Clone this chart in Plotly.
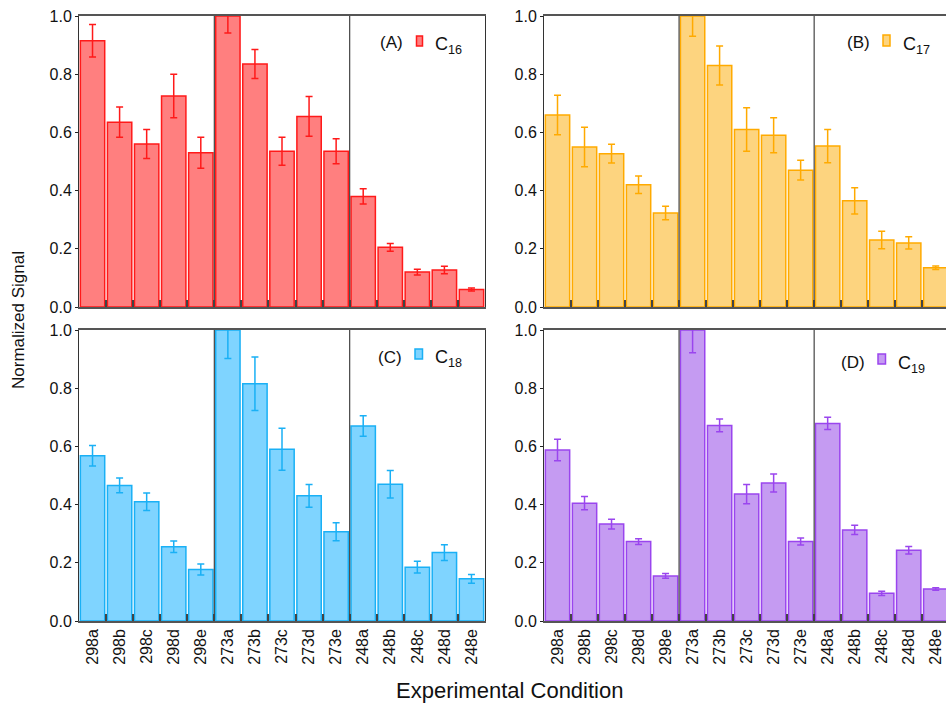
import plotly.graph_objects as go

categories = ["298a", "298b", "298c", "298d", "298e",
              "273a", "273b", "273c", "273d", "273e",
              "248a", "248b", "248c", "248d", "248e"]

c16 = [0.915, 0.635, 0.56, 0.725, 0.53, 1.0, 0.835, 0.535, 0.655, 0.535, 0.38, 0.205, 0.12, 0.127, 0.06]
c16_err = [0.056, 0.052, 0.05, 0.075, 0.053, 0.058, 0.05, 0.048, 0.068, 0.043, 0.026, 0.013, 0.01, 0.013, 0.005]

c17 = [0.66, 0.55, 0.527, 0.42, 0.323, 1.0, 0.83, 0.61, 0.59, 0.47, 0.553, 0.365, 0.23, 0.22, 0.135]
c17_err = [0.068, 0.068, 0.032, 0.03, 0.023, 0.07, 0.067, 0.075, 0.06, 0.034, 0.057, 0.045, 0.03, 0.021, 0.006]

c18 = [0.568, 0.466, 0.41, 0.255, 0.177, 1.0, 0.815, 0.59, 0.43, 0.307, 0.67, 0.47, 0.185, 0.235, 0.145]
c18_err = [0.035, 0.025, 0.03, 0.02, 0.019, 0.098, 0.092, 0.072, 0.039, 0.031, 0.035, 0.047, 0.02, 0.027, 0.015]

c19 = [0.588, 0.405, 0.333, 0.273, 0.155, 1.0, 0.672, 0.436, 0.474, 0.273, 0.679, 0.313, 0.095, 0.243, 0.11]
c19_err = [0.037, 0.023, 0.017, 0.01, 0.008, 0.078, 0.022, 0.033, 0.031, 0.012, 0.021, 0.016, 0.007, 0.013, 0.004]

series_names = ["C<sub>16</sub>", "C<sub>17</sub>", "C<sub>18</sub>", "C<sub>19</sub>"]
panel_tags = ["(A)", "(B)", "(C)", "(D)"]
values = [c16, c17, c18, c19]
errors = [c16_err, c17_err, c18_err, c19_err]
line_colors = ["#FF1A1A", "#FFAA00", "#1AB0F5", "#9A45EE"]
fill_colors = ["rgba(255,0,0,0.5)", "rgba(252,170,0,0.5)", "rgba(0,170,255,0.5)", "rgba(140,55,230,0.5)"]

W, H = 946, 704
def px(x):
    return x / W
def py(y):
    return 1 - y / H

# panel pixel boxes
x_left = (79, 485)
x_right = (544, 946)
y_top = (16, 307)
y_bot = (330, 621)
panels = [
    (x_left, y_top, "x", "y", [-0.5, 14.5], True),
    (x_right, y_top, "x2", "y2", [-0.5, 14.38], False),
    (x_left, y_bot, "x3", "y3", [-0.5, 14.5], True),
    (x_right, y_bot, "x4", "y4", [-0.5, 14.38], False),
]

fig = go.Figure()
font_family = "Liberation Sans, Arial, sans-serif"

for i, (xs, ys, xa, ya, xr, mirror_right) in enumerate(panels):
    fig.add_trace(go.Bar(
        x=categories, y=values[i], xaxis=xa, yaxis=ya,
        marker=dict(color=fill_colors[i], line=dict(color=line_colors[i], width=1.5)),
        error_y=dict(type="data", array=errors[i], visible=True,
                     color=line_colors[i], thickness=1.5, width=3.5),
        width=0.9, showlegend=False, name=series_names[i], hoverinfo="skip",
    ))
    xkey = "xaxis" + ("" if i == 0 else str(i + 1))
    ykey = "yaxis" + ("" if i == 0 else str(i + 1))
    fig.layout[xkey] = dict(
        domain=[px(xs[0]), px(xs[1])], anchor=ya, type="category",
        categoryorder="array", categoryarray=categories,
        range=xr, tickson="boundaries", ticks="inside", ticklen=7,
        tickwidth=2, tickcolor="#444",
        showticklabels=(i >= 2), tickangle=-90,
        tickfont=dict(family=font_family, size=16, color="#111"),
        showline=True, linecolor="#555", linewidth=1.5, mirror=True,
        showgrid=False, zeroline=False, automargin=False, fixedrange=True,
    )
    fig.layout[ykey] = dict(
        domain=[py(ys[1]), py(ys[0])], anchor=xa, range=[0, 1],
        tickvals=[0, 0.2, 0.4, 0.6, 0.8, 1.0],
        ticktext=["0.0", "0.2", "0.4", "0.6", "0.8", "1.0"],
        ticks="outside", ticklen=3, tickcolor="#222",
        tickfont=dict(family=font_family, size=16, color="#111"),
        showline=True, linecolor="#333", linewidth=1, mirror=mirror_right,
        showgrid=False, zeroline=False, automargin=False, fixedrange=True,
    )
    for b in [4.5, 9.5]:
        fig.add_shape(type="line", xref=xa, yref=ya + " domain",
                      x0=b, x1=b, y0=0, y1=1,
                      line=dict(color="#444", width=1.2))

legend_pos = [
    (391, 43, 416.5, 422.5, 36, 46, 433),
    (858, 43, 883, 890, 35, 46, 901),
    (390, 357, 415, 422.5, 349, 359, 433),
    (853, 362, 878, 885.5, 354, 364, 896),
]
for i, (tx, ty, sx0, sx1, sy0, sy1, lx) in enumerate(legend_pos):
    fig.add_annotation(x=px(tx), y=py(ty), xref="paper", yref="paper",
                       text=panel_tags[i], showarrow=False,
                       xanchor="center", yanchor="middle",
                       font=dict(family=font_family, size=17, color="#111"))
    fig.add_shape(type="rect", xref="paper", yref="paper",
                  x0=px(sx0), x1=px(sx1), y0=py(sy1), y1=py(sy0),
                  fillcolor=fill_colors[i], line=dict(color=line_colors[i], width=1.5))
    fig.add_annotation(x=px(lx), y=py(ty + 2), xref="paper", yref="paper",
                       text=series_names[i], showarrow=False,
                       xanchor="left", yanchor="middle",
                       font=dict(family=font_family, size=18, color="#111"))

fig.add_annotation(x=px(18), y=py(320), xref="paper", yref="paper",
                   text="Normalized Signal", textangle=-90, showarrow=False,
                   xanchor="center", yanchor="middle",
                   font=dict(family=font_family, size=17, color="#111"))
fig.add_annotation(x=px(509), y=py(690), xref="paper", yref="paper",
                   text="Experimental Condition", showarrow=False,
                   xanchor="center", yanchor="middle",
                   font=dict(family=font_family, size=22, color="#111"))

fig.update_layout(
    width=W, height=H, margin=dict(l=0, r=0, t=0, b=0, pad=0),
    template="none", paper_bgcolor="white", plot_bgcolor="white",
    bargap=0.1, showlegend=False, hovermode=False,
)

fig.write_html("out.html", config={"displayModeBar": False},
               post_script="document.body.style.margin='0';document.body.style.overflow='hidden';")
